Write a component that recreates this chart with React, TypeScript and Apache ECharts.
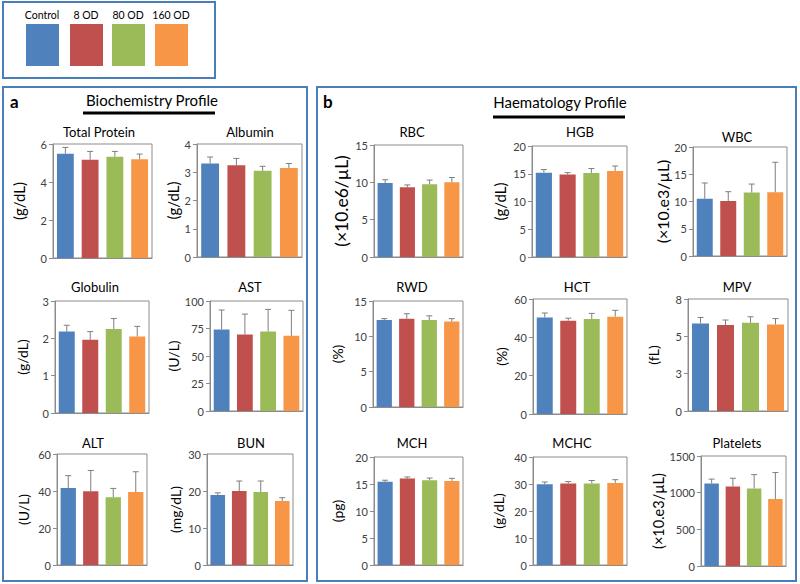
import React, { useEffect, useRef } from "react";
import * as echarts from "echarts";

const groups = ["Control", "8 OD", "80 OD", "160 OD"];
const groupColors = ["#4F81BD", "#C0504D", "#9BBB59", "#F79646"];

const panelNames = ["Total Protein", "Albumin", "Globulin", "AST", "ALT", "BUN", "RBC", "HGB", "WBC", "RWD", "HCT", "MPV", "MCH", "MCHC", "Platelets"];
const panelUnits = ["(g/dL)", "(g/dL)", "(g/dL)", "(U/L)", "(U/L)", "(mg/dL)", "(×10.e6/µL)", "(g/dL)", "(×10.e3/µL)", "(%)", "(%)", "(fL)", "(pg)", "(g/dL)", "(×10.e3/µL)"];
const axisMax = [6, 4, 3, 100, 60, 30, 15, 20, 20, 15, 60, 8, 20, 40, 1500];
const axisInterval = [2, 1, 1, 25, 20, 10, 5, 5, 5, 5, 20, 8 / 3, 5, 10, 500];

const totalProteinMean = [5.49, 5.17, 5.33, 5.2];
const totalProteinErr = [0.33, 0.44, 0.28, 0.27];
const albuminMean = [3.31, 3.25, 3.05, 3.15];
const albuminErr = [0.23, 0.24, 0.16, 0.16];
const globulinMean = [2.18, 1.96, 2.25, 2.05];
const globulinErr = [0.17, 0.22, 0.28, 0.27];
const astMean = [74.2, 69.6, 72.3, 68.4];
const astErr = [17.6, 18.5, 20.1, 23.1];
const altMean = [41.6, 39.8, 36.6, 39.4];
const altErr = [6.7, 11.3, 4.8, 11.0];
const bunMean = [18.9, 20.0, 19.7, 17.3];
const bunErr = [0.6, 2.7, 3.0, 0.9];
const rbcMean = [9.9, 9.35, 9.75, 10.0];
const rbcErr = [0.45, 0.3, 0.55, 0.65];
const hgbMean = [15.2, 14.85, 15.15, 15.5];
const hgbErr = [0.55, 0.35, 0.8, 0.9];
const wbcMean = [10.5, 10.1, 11.65, 11.7];
const wbcErr = [2.9, 1.7, 1.55, 5.5];
const rwdMean = [12.3, 12.5, 12.3, 12.1];
const rwdErr = [0.2, 0.7, 0.6, 0.4];
const hctMean = [50.3, 48.7, 49.6, 50.8];
const hctErr = [2.4, 1.3, 2.9, 3.3];
const mpvMean = [6.25, 6.14, 6.3, 6.18];
const mpvErr = [0.43, 0.36, 0.43, 0.42];
const mchMean = [15.4, 16.0, 15.7, 15.55];
const mchErr = [0.3, 0.3, 0.4, 0.5];
const mchcMean = [29.95, 30.2, 30.2, 30.4];
const mchcErr = [0.8, 0.7, 1.1, 1.2];
const plateletsMean = [1125, 1085, 1058, 912];
const plateletsErr = [60, 112, 188, 362];

const panelMeans = [totalProteinMean, albuminMean, globulinMean, astMean, altMean, bunMean, rbcMean, hgbMean, wbcMean, rwdMean, hctMean, mpvMean, mchMean, mchcMean, plateletsMean];
const panelErrs = [totalProteinErr, albuminErr, globulinErr, astErr, altErr, bunErr, rbcErr, hgbErr, wbcErr, rwdErr, hctErr, mpvErr, mchErr, mchcErr, plateletsErr];

// layout: [left, top, right, bottom, titleX, titleY, nameGap, nameFontSize]
const layout = [
  [53, 144, 152, 258, 99, 132, 27, 15],
  [197, 144, 302, 257, 250, 132, 12, 15],
  [55, 301, 149, 413, 95, 287, 26, 14],
  [210, 301, 303, 411, 250, 287, 30, 14],
  [57, 454, 147, 565, 93, 443, 27, 14],
  [207, 454, 293, 565, 251, 443, 25, 14],
  [374, 145, 463, 257, 412, 132, 24, 17.5],
  [532, 146, 627, 257, 580, 132, 25, 15],
  [693, 147, 787, 256, 737, 137, 21, 16],
  [373, 301, 463, 407, 412, 287, 29, 14],
  [533, 299, 627, 414, 577, 287, 25, 14],
  [688, 299, 788, 411, 737, 287, 28, 14],
  [374, 457, 463, 565, 412, 443, 30, 14],
  [533, 457, 627, 565, 572, 443, 28, 14],
  [701, 456, 786, 566, 737, 443, 31, 14.5],
];

const FONT = "Lato, 'Open Sans', sans-serif";

export default function App() {
  const ref = useRef<HTMLDivElement>(null);
  useEffect(() => {
    if (!ref.current) return;
    const chart = echarts.init(ref.current, null, { renderer: "svg" });
    const grid: any[] = [];
    const xAxis: any[] = [];
    const yAxis: any[] = [];
    const series: any[] = [];
    const graphic: any[] = [];

    panelNames.forEach((name, i) => {
      const [l, t, r, b, tx, ty, gap, nfs] = layout[i];
      grid.push({ left: l, top: t, width: r - l, height: b - t, show: true, borderColor: "#8c8c8c", borderWidth: 1, containLabel: false });
      xAxis.push({
        type: "category", gridIndex: i, data: groups,
        axisLine: { show: true, lineStyle: { color: "#8c8c8c" } },
        axisTick: { show: false }, axisLabel: { show: false },
      });
      yAxis.push({
        type: "value", gridIndex: i, min: 0, max: axisMax[i], interval: axisInterval[i],
        name: panelUnits[i], nameLocation: "middle", nameRotate: 90, nameGap: gap,
        nameTextStyle: { fontSize: nfs, color: "#000", fontFamily: FONT },
        axisLine: { show: true, lineStyle: { color: "#8c8c8c" } },
        axisTick: { show: true, inside: false, length: 4, lineStyle: { color: "#8c8c8c" } },
        splitLine: { show: false },
        axisLabel: {
          fontSize: 11, color: "#404040", fontFamily: FONT, margin: 6,
          formatter: (v: number) => String(Math.round(v)),
        },
      });
      series.push({
        type: "bar", xAxisIndex: i, yAxisIndex: i, barWidth: "68%",
        data: panelMeans[i].map((v, k) => ({ value: v, itemStyle: { color: groupColors[k] } })),
      });
      series.push({
        type: "custom", xAxisIndex: i, yAxisIndex: i, z: 5,
        data: panelMeans[i].map((v, k) => [k, v, panelErrs[i][k]]),
        renderItem: (params: any, api: any) => {
          const x = api.value(0), v = api.value(1), e = api.value(2);
          const p0 = api.coord([x, v]);
          const p1 = api.coord([x, v + e]);
          const st = { stroke: "#7f7f7f", lineWidth: 1 };
          return {
            type: "group",
            children: [
              { type: "line", shape: { x1: p0[0], y1: p0[1], x2: p1[0], y2: p1[1] }, style: st },
              { type: "line", shape: { x1: p1[0] - 3, y1: p1[1], x2: p1[0] + 3, y2: p1[1] }, style: st },
            ],
          };
        },
      });
      graphic.push({
        type: "text", x: tx, y: ty,
        style: { text: name, fontSize: 13, fontFamily: FONT, fill: "#000", align: "center", verticalAlign: "middle" },
      });
    });

    // frames
    const frameStyle = { fill: "none", stroke: "#4A7EBB", lineWidth: 2 };
    graphic.push({ type: "rect", shape: { x: 3, y: 2, width: 212, height: 76 }, style: frameStyle });
    graphic.push({ type: "rect", shape: { x: 3, y: 87, width: 304, height: 494 }, style: frameStyle });
    graphic.push({ type: "rect", shape: { x: 317, y: 87, width: 479, height: 494 }, style: frameStyle });

    // legend
    const legendX = [42, 86, 128, 171];
    groups.forEach((g, k) => {
      graphic.push({ type: "text", x: legendX[k], y: 15, style: { text: g, fontSize: 10.5, fontFamily: FONT, fill: "#000", align: "center", verticalAlign: "middle" } });
      graphic.push({ type: "rect", shape: { x: legendX[k] - 16, y: 24, width: 33, height: 42 }, style: { fill: groupColors[k] } });
    });

    // headings
    graphic.push({ type: "text", x: 10, y: 101, style: { text: "a", fontSize: 17, fontWeight: "bold", fontFamily: FONT, fill: "#000", verticalAlign: "middle" } });
    graphic.push({ type: "text", x: 323, y: 101, style: { text: "b", fontSize: 17, fontWeight: "bold", fontFamily: FONT, fill: "#000", verticalAlign: "middle" } });
    graphic.push({ type: "text", x: 152, y: 100, style: { text: "Biochemistry Profile", fontSize: 15, fontFamily: FONT, fill: "#000", align: "center", verticalAlign: "middle" } });
    graphic.push({ type: "line", shape: { x1: 83, y1: 113, x2: 215, y2: 113 }, style: { stroke: "#000", lineWidth: 3 } });
    graphic.push({ type: "text", x: 560, y: 102, style: { text: "Haematology Profile", fontSize: 15, fontFamily: FONT, fill: "#000", align: "center", verticalAlign: "middle" } });
    graphic.push({ type: "line", shape: { x1: 493, y1: 117, x2: 625, y2: 117 }, style: { stroke: "#000", lineWidth: 3 } });

    chart.setOption({
      animation: false,
      backgroundColor: "#fff",
      textStyle: { fontFamily: FONT },
      grid, xAxis, yAxis, series, graphic,
    });
    return () => chart.dispose();
  }, []);
  return <div ref={ref} style={{ position: "absolute", left: 0, top: 0, width: 800, height: 584 }} />;
}
